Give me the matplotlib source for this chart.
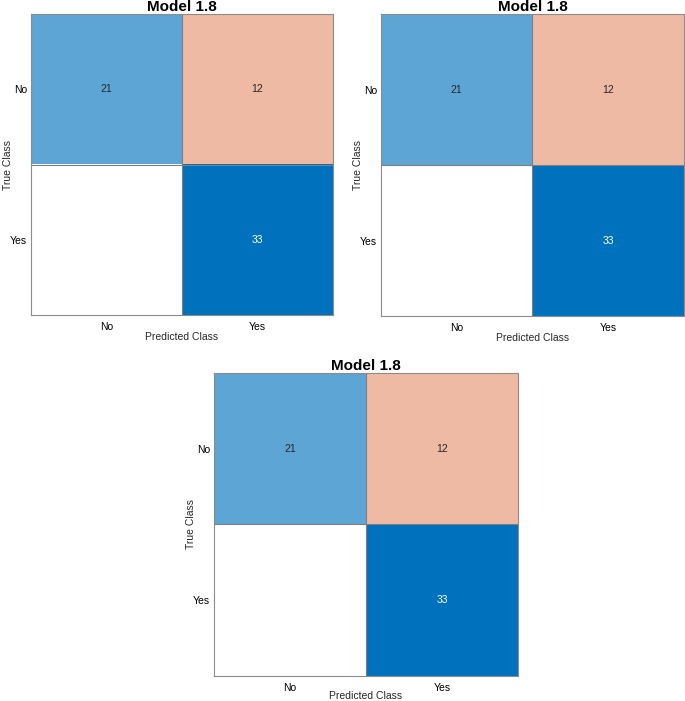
import matplotlib
matplotlib.use("Agg")
import matplotlib.pyplot as plt
import numpy as np

plt.rcParams["font.family"] = ["Liberation Sans", "DejaVu Sans"]

# confusion matrix data (rows = true, cols = predicted)
classes = ["No", "Yes"]
counts = np.array([[21, 12],
                   [0, 33]])
title = "Model 1.8"

diag_color = np.array([0, 114, 189]) / 255.0
off_color = np.array([217, 83, 25]) / 255.0


def cell_colors(cm):
    """Shade each cell from white towards blue (diagonal) or orange (off diagonal)."""
    vmax = cm.max()
    rgb = np.ones(cm.shape + (3,))
    for i in range(cm.shape[0]):
        for j in range(cm.shape[1]):
            base = diag_color if i == j else off_color
            f = cm[i, j] / vmax
            if i != j:
                # off-diagonal shading comes out a bit stronger in the original
                f = min(1.0, f * 1.1)
            rgb[i, j] = 1 - (1 - base) * f
    return rgb


def draw(ax, cm, xlab_y=-0.055):
    rgb = cell_colors(cm)
    n = cm.shape[0]
    ax.imshow(rgb, extent=(-0.5, n - 0.5, n - 0.5, -0.5), aspect="auto")
    for k in range(1, n):
        ax.axhline(k - 0.5, color="#7f7f7f", lw=0.8)
        ax.axvline(k - 0.5, color="#7f7f7f", lw=0.8)
    for i in range(n):
        for j in range(n):
            if cm[i, j] == 0:
                continue
            f = cm[i, j] / cm.max()
            col = "white" if (i == j and f > 0.8) else "#262626"
            ax.text(j, i, str(cm[i, j]), ha="center", va="center",
                    fontsize=7.5, color=col)
    ax.set_xticks(range(n))
    ax.set_yticks(range(n))
    ax.set_xticklabels(classes, fontsize=7.5)
    ax.set_yticklabels(classes, fontsize=7.5)
    ax.tick_params(axis="x", length=0, pad=5)
    ax.tick_params(axis="y", length=0, pad=3)
    for s in ax.spines.values():
        s.set_color("#8c8c8c")
        s.set_linewidth(0.8)
    ax.set_xlabel("Predicted Class", fontsize=7.5, color="#262626")
    ax.set_ylabel("True Class", fontsize=7.5, color="#262626")
    ax.xaxis.set_label_coords(0.5, xlab_y)
    ax.yaxis.set_label_coords(-0.06, 0.5)
    ax.set_title(title, fontsize=11, fontweight="bold", pad=1)


fig = plt.figure(figsize=(6.85, 7.01), dpi=100)
ax1 = fig.add_axes([0.0453, 0.5506, 0.4409, 0.4294])
ax2 = fig.add_axes([0.5562, 0.5492, 0.4423, 0.4308])
ax3 = fig.add_axes([0.3124, 0.0357, 0.4438, 0.4322])
draw(ax1, counts)
draw(ax2, counts)
draw(ax3, counts, xlab_y=-0.048)

fig.savefig("out.png", dpi=100)
